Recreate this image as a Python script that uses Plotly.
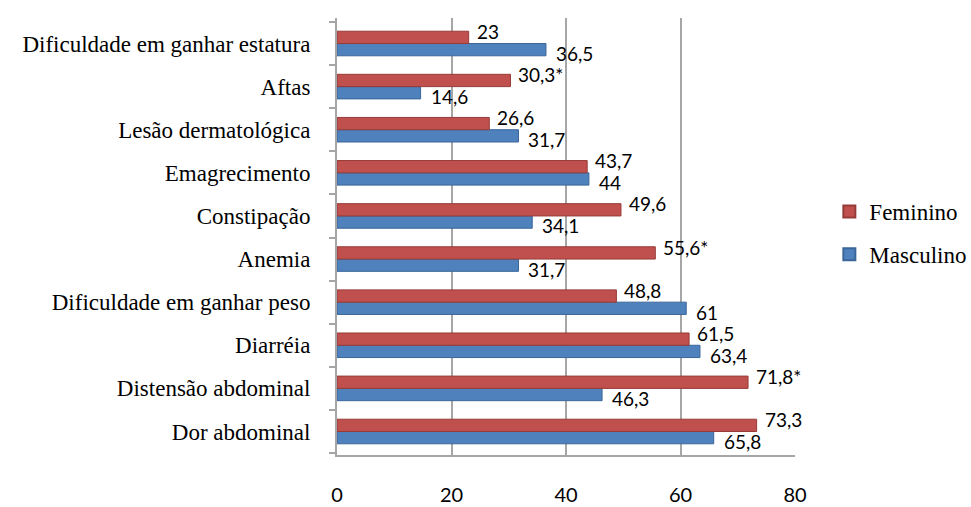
import plotly.graph_objects as go

# Sintomas (de baixo para cima no eixo)
sintomas = [
    "Dor abdominal",
    "Distensão abdominal",
    "Diarréia",
    "Dificuldade em ganhar peso",
    "Anemia",
    "Constipação",
    "Emagrecimento",
    "Lesão dermatológica",
    "Aftas",
    "Dificuldade em ganhar estatura",
]
masculino = [65.8, 46.3, 63.4, 61, 31.7, 34.1, 44, 31.7, 14.6, 36.5]
feminino = [73.3, 71.8, 61.5, 48.8, 55.6, 49.6, 43.7, 26.6, 30.3, 23]
# marcador de diferença significativa
feminino_sig = ["", "*", "", "", "*", "", "", "", "*", ""]
x_ticks = [0, 20, 40, 60, 80]

AZUL = "#4F81BD"
VERMELHO = "#C0504D"


def fmt(v):
    return f"{v:g}".replace(".", ",")


label_font = dict(family="Lato, Carlito, sans-serif", size=19, color="#000000")
serif_font = dict(family="Liberation Serif, Times New Roman, serif", size=23, color="#000000")

fig = go.Figure()
fig.add_trace(go.Bar(
    y=sintomas, x=masculino, orientation="h", name="Masculino",
    legendgroup="m", legendrank=2,
    marker=dict(color=AZUL, line=dict(color="#3A6699", width=1)),
))
fig.add_trace(go.Bar(
    y=sintomas, x=feminino, orientation="h", name="Feminino",
    legendgroup="f", legendrank=1,
    marker=dict(color=VERMELHO, line=dict(color="#963B38", width=1)),
))

# rótulos de valor: feminino acima da barra vermelha, masculino abaixo da azul
annotations = []
for cat, v in zip(sintomas, masculino):
    annotations.append(dict(
        x=v, y=cat, xref="x", yref="y", text=fmt(v), showarrow=False,
        xanchor="left", yanchor="middle", xshift=8, yshift=-10, font=label_font,
    ))
for cat, v, s in zip(sintomas, feminino, feminino_sig):
    annotations.append(dict(
        x=v, y=cat, xref="x", yref="y", text=fmt(v) + s, showarrow=False,
        xanchor="left", yanchor="middle", xshift=6, yshift=12, font=label_font,
    ))

fig.update_layout(
    width=971, height=507,
    margin=dict(l=337, r=176, t=18, b=52, autoexpand=False),
    paper_bgcolor="white", plot_bgcolor="white",
    barmode="group", bargap=0.43, bargroupgap=0.0,
    showlegend=True,
    legend=dict(
        x=1.075, y=0.508, xanchor="left", yanchor="middle",
        traceorder="grouped", itemsizing="constant",
        font=serif_font, tracegroupgap=10, itemwidth=30,
    ),
    annotations=annotations,
)
fig.update_xaxes(
    range=[0, 80], tickvals=x_ticks, ticktext=[str(t) for t in x_ticks],
    showgrid=True, gridcolor="#A6A6A6", gridwidth=2,
    zeroline=False, showline=True, linecolor="#A6A6A6", linewidth=2,
    ticks="", ticklabelstandoff=21,
    tickfont=dict(family="Lato, Carlito, sans-serif", size=20, color="#000000"),
)
fig.update_yaxes(
    type="category", categoryorder="array", categoryarray=sintomas,
    showgrid=False, showline=True, linecolor="#A6A6A6", linewidth=2,
    ticks="outside", ticklen=6, tickcolor="#A6A6A6", tickwidth=2,
    tickson="boundaries", ticklabelstandoff=20,
    tickfont=serif_font,
)

fig.write_html("out.html")
